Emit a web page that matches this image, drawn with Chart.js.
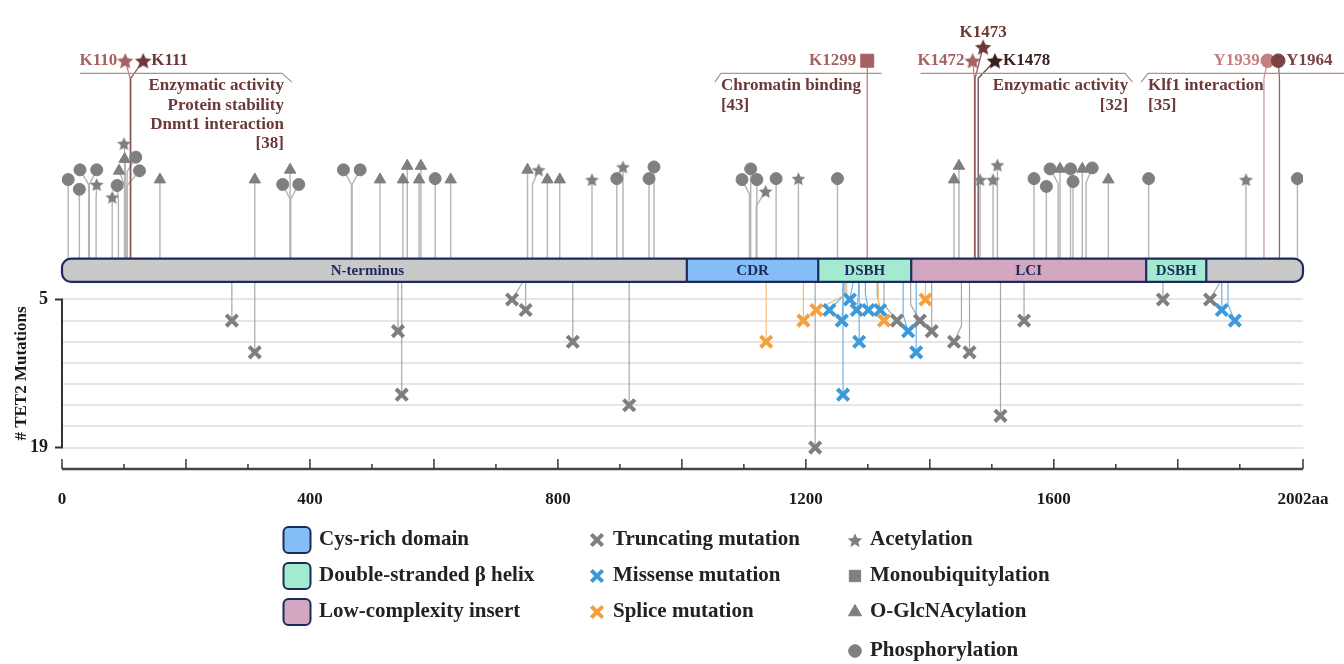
<!DOCTYPE html>
<html>
<head>
<meta charset="utf-8">
<script src="https://cdn.jsdelivr.net/npm/chart.js@4.4.1/dist/chart.umd.min.js"></script>
<style>
  html, body { margin: 0; padding: 0; background: #fff; }
  #wrap { width: 1344px; height: 664px; }
</style>
</head>
<body>
<div id="wrap"><canvas id="chart" width="1344" height="664"></canvas></div>
<script>
// ---- protein axis ----
const proteinLength = 2002;
const xTickLabels = [0, 400, 800, 1200, 1600, 2002];
const mutGridValues = [5, 7, 9, 11, 13, 15, 17, 19];

// ---- domains ----
const domainNames = ['N-terminus', 'CDR', 'DSBH', 'LCI', 'DSBH', ''];
const domainStart = [0, 1008, 1220, 1370, 1749, 1846];
const domainEnd = [1008, 1220, 1370, 1749, 1846, 2002];

// ---- PTM sites (P phospho, A acetyl, G O-GlcNAc) ----
const ptmSites = [10, 28, 43, 44, 55, 81, 91, 101, 101, 102, 105, 105, 158, 311, 368, 368, 369, 467, 468, 513,
  550, 557, 576, 579, 602, 627, 751, 759, 783, 803, 855, 895, 905, 947, 955, 1109, 1111, 1121, 1120, 1152,
  1188, 1251, 1439, 1447, 1481, 1502, 1509, 1568, 1588, 1607, 1610, 1627, 1631, 1646, 1652, 1688, 1753, 1910, 1993];
const ptmTypes = ['P', 'P', 'P', 'P', 'A', 'A', 'P', 'G', 'G', 'A', 'P', 'P', 'G', 'G', 'G', 'P', 'P', 'P', 'P', 'G',
  'G', 'G', 'G', 'G', 'P', 'G', 'G', 'A', 'G', 'G', 'A', 'P', 'A', 'P', 'P', 'P', 'P', 'P', 'A', 'P',
  'A', 'P', 'G', 'G', 'A', 'A', 'A', 'P', 'P', 'P', 'G', 'P', 'P', 'G', 'P', 'G', 'P', 'A', 'P'];
// where each head is drawn (aa) and how high above the bar, heads are spread where they crowd
const ptmHeadPos = [10, 28, 29, 56, 56, 81, 89, 92, 101, 100, 119, 125, 158, 311, 368, 356, 382, 454, 481, 513,
  550, 557, 576, 579, 602, 627, 751, 769, 783, 803, 855, 895, 905, 947, 955, 1097, 1111, 1121, 1135, 1152,
  1188, 1251, 1439, 1447, 1481, 1502, 1509, 1568, 1588, 1594, 1610, 1627, 1631, 1646, 1662, 1688, 1753, 1910, 1993];
const ptmHeadLevel = [8.1, 7.1, 9.1, 9.1, 7.6, 6.3, 7.5, 9.0, 10.2, 11.8, 10.4, 9.0, 8.1, 8.1, 9.1, 7.6, 7.6, 9.1, 9.1, 8.1,
  8.1, 9.5, 8.1, 9.5, 8.2, 8.1, 9.1, 9.1, 8.1, 8.1, 8.1, 8.2, 9.4, 8.2, 9.4, 8.1, 9.2, 8.1, 6.9, 8.2,
  8.2, 8.2, 8.1, 9.5, 8.1, 8.1, 9.6, 8.2, 7.4, 9.2, 9.2, 9.2, 7.9, 9.2, 9.3, 8.1, 8.2, 8.1, 8.2];

// ---- functionally characterised sites ----
const keyLabels = ['K110', 'K111', 'K1299', 'K1472', 'K1473', 'K1478', 'Y1939', 'Y1964'];
const keySites = [110, 111, 1299, 1472, 1473, 1478, 1939, 1964];
const keyTypes = ['A', 'A', 'U', 'A', 'A', 'A', 'P', 'P'];
const keyHeadPos = [102, 131, 1299, 1469, 1486, 1505, 1945, 1962];
const keyHeadLevel = [20.3, 20.3, 20.3, 20.3, 21.7, 20.3, 20.3, 20.3];
const keyLabelSide = ['left', 'right', 'left', 'left', 'top', 'right', 'left', 'right'];
const keyColors = ['#a66262', '#6e3838', '#a66262', '#a66262', '#6e3838', '#3b1f1f', '#c27f7f', '#7a4242'];

// ---- annotation boxes ----
const noteLines = [
  ['Enzymatic activity', 'Protein stability', 'Dnmt1 interaction', '[38]'],
  ['Chromatin binding', '[43]'],
  ['Enzymatic activity', '[32]'],
  ['Klf1 interaction', '[35]']
];
const noteAnchor = [358, 1063, 1720, 1752];
const noteAlign = ['right', 'left', 'right', 'left'];
const bracketPoints = [
  [[29, 19.0], [355, 19.0], [371, 18.1]],
  [[1053, 18.1], [1063, 19.0], [1322, 19.0]],
  [[1385, 19.0], [1715, 19.0], [1727, 18.1]],
  [[1741, 18.1], [1752, 19.0], [2070, 19.0]]
];

// ---- TET2 mutations ----
const truncSite = [274, 311, 542, 548, 742, 748, 824, 915, 1215, 1326, 1369, 1403, 1451, 1464, 1514, 1552, 1776, 1867];
const truncHead = [274, 311, 542, 548, 726, 748, 824, 915, 1215, 1347, 1384, 1403, 1439, 1464, 1514, 1552, 1776, 1852];
const truncCount = [7, 10, 8, 14, 5, 6, 9, 15, 19, 7, 7, 8, 9, 10, 16, 7, 5, 5];
const missSite = [1263, 1276, 1260, 1260, 1285, 1296, 1315, 1286, 1357, 1378, 1871, 1881];
const missHead = [1238, 1271, 1258, 1260, 1282, 1301, 1320, 1286, 1365, 1378, 1871, 1892];
const missCount = [6, 5, 7, 14, 6, 6, 6, 9, 8, 10, 6, 7];
const spliceSite = [1136, 1196, 1266, 1317, 1393];
const spliceHead = [1136, 1196, 1217, 1326, 1393];
const spliceCount = [9, 7, 6, 7, 5];

// ---- legend ----
const legendDomains = ['Cys-rich domain', 'Double-stranded \u03b2 helix', 'Low-complexity insert'];
const legendMutations = ['Truncating mutation', 'Missense mutation', 'Splice mutation'];
const legendPtms = ['Acetylation', 'Monoubiquitylation', 'O-GlcNAcylation', 'Phosphorylation'];

// ---- look ----
const FONT = '"Liberation Serif", "Times New Roman", serif';
const NAVY = '#1d2a5c';
const PTM_GRAY = '#7f7f7f';
const STEM_GRAY = '#b4b4b4';
const NOTE_COLOR = '#6b3939';
const domainColors = ['#c9c9c9', '#85bdf7', '#a3ead0', '#d4a7c1', '#a3ead0', '#c9c9c9'];
const mutColors = ['#7f7f7f', '#3d9ad8', '#f5a03c'];
const mutStemColors = ['#a8a8a8', '#6db4e8', '#f7bb78'];

const AREA_BOTTOM = 469;           // x axis line
const MUT_TOP = 295, MUT_BOTTOM = 447;
const mutPx = (MUT_BOTTOM - MUT_TOP) / (19 - 5);
const BAR_TOP = 253;
const PTM_PX = 10;                 // px per level unit above the bar
const BAR_H = 2.4;

function makeStar(color, r) {
  const c = document.createElement('canvas');
  const s = Math.ceil(r * 2 + 2);
  c.width = s; c.height = s;
  const g = c.getContext('2d');
  g.fillStyle = color;
  g.beginPath();
  for (let i = 0; i < 10; i++) {
    const rad = i % 2 ? r * 0.47 : r;
    const a = -Math.PI / 2 + i * Math.PI / 5;
    g.lineTo(s / 2 + rad * Math.cos(a), s / 2 + 0.8 + rad * Math.sin(a));
  }
  g.closePath();
  g.fill();
  return c;
}

const starGray = makeStar(PTM_GRAY, 7.2);
const starLegend = makeStar(PTM_GRAY, 7.6);
const ptmStyle = { P: 'circle', A: starGray, G: 'triangle', U: 'rect' };
const ptmRadius = { P: 6, A: 6, G: 6.6, U: 5.5 };
const keyStyles = keyTypes.map((t, i) => t === 'A' ? makeStar(keyColors[i], 8.6) : (t === 'U' ? 'rect' : 'circle'));
const keyRadius = keyTypes.map(t => t === 'U' ? 9.2 : 6.8);

function toPoints(xs, ys) {
  return xs.map((x, i) => ({ x, y: ys[i] }));
}

function setFont(ctx, size, color, align) {
  ctx.font = `bold ${size}px ${FONT}`;
  ctx.fillStyle = color;
  ctx.textAlign = align || 'left';
  ctx.textBaseline = 'middle';
}

function drawStem(ctx, x0, y0, x1, y1, kneeY) {
  ctx.beginPath();
  ctx.moveTo(x0, y0);
  if (Math.abs(x1 - x0) > 0.5) ctx.lineTo(x0, kneeY);
  ctx.lineTo(x1, y1);
  ctx.stroke();
}

function mark(ctx, style, radius, color, x, y, borderWidth) {
  ctx.save();
  ctx.fillStyle = color;
  ctx.strokeStyle = color;
  ctx.lineWidth = borderWidth;
  Chart.helpers.drawPoint(ctx, { pointStyle: style, radius, rotation: 0, borderWidth }, x, y);
  ctx.restore();
}

const tet2Plugin = {
  id: 'tet2',
  beforeDatasetsDraw(chart) {
    const { ctx, chartArea } = chart;
    const { x, yMut, yPtm } = chart.scales;
    const barTop = yPtm.getPixelForValue(0);
    const barBottom = yPtm.getPixelForValue(-BAR_H);
    ctx.save();
    ctx.lineCap = 'butt';

    // y axis of the mutation panel
    ctx.strokeStyle = '#333';
    ctx.lineWidth = 2;
    ctx.beginPath();
    ctx.moveTo(x.left, yMut.getPixelForValue(5));
    ctx.lineTo(x.left, yMut.getPixelForValue(19));
    [5, 19].forEach(v => {
      ctx.moveTo(x.left - 7, yMut.getPixelForValue(v));
      ctx.lineTo(x.left + 1, yMut.getPixelForValue(v));
    });
    ctx.stroke();

    // protein axis
    ctx.strokeStyle = '#444';
    ctx.lineWidth = 2.5;
    ctx.beginPath();
    ctx.moveTo(x.left, chartArea.bottom);
    ctx.lineTo(x.right, chartArea.bottom);
    ctx.stroke();
    ctx.lineWidth = 1.6;
    ctx.beginPath();
    for (let v = 0; v <= proteinLength; v += 100) {
      const val = v === 2000 ? proteinLength : v;
      const len = (v % 200 === 0) ? 10 : 5;
      const px = x.getPixelForValue(val);
      ctx.moveTo(px, chartArea.bottom);
      ctx.lineTo(px, chartArea.bottom - len);
    }
    ctx.stroke();

    // PTM stems
    ctx.strokeStyle = STEM_GRAY;
    ctx.lineWidth = 1.4;
    ptmSites.forEach((s, i) => {
      const hy = yPtm.getPixelForValue(ptmHeadLevel[i]);
      drawStem(ctx, x.getPixelForValue(s), barTop, x.getPixelForValue(ptmHeadPos[i]), hy,
        yPtm.getPixelForValue(ptmHeadLevel[i] - 1.5));
    });

    // key site stems
    ctx.lineWidth = 1.3;
    keySites.forEach((s, i) => {
      ctx.strokeStyle = keyColors[i];
      ctx.globalAlpha = 0.8;
      drawStem(ctx, x.getPixelForValue(s), barTop, x.getPixelForValue(keyHeadPos[i]),
        yPtm.getPixelForValue(keyHeadLevel[i]), yPtm.getPixelForValue(18.5));
    });
    ctx.globalAlpha = 1;

    // mutation stems
    const sets = [[truncSite, truncHead, truncCount], [missSite, missHead, missCount], [spliceSite, spliceHead, spliceCount]];
    ctx.lineWidth = 1.2;
    sets.forEach((set, k) => {
      ctx.strokeStyle = mutStemColors[k];
      set[0].forEach((s, i) => {
        const hy = yMut.getPixelForValue(set[2][i]);
        drawStem(ctx, x.getPixelForValue(s), barBottom, x.getPixelForValue(set[1][i]), hy,
          Math.max(barBottom, hy - 16));
      });
    });

    // protein bar with domains
    const bx0 = x.getPixelForValue(0), bx1 = x.getPixelForValue(proteinLength);
    ctx.save();
    ctx.beginPath();
    ctx.roundRect(bx0, barTop, bx1 - bx0, barBottom - barTop, 9);
    ctx.clip();
    domainStart.forEach((s, i) => {
      const a = x.getPixelForValue(s), b = x.getPixelForValue(domainEnd[i]);
      ctx.fillStyle = domainColors[i];
      ctx.fillRect(a, barTop, b - a, barBottom - barTop);
    });
    ctx.strokeStyle = NAVY;
    ctx.lineWidth = 2.2;
    ctx.beginPath();
    domainStart.slice(1).forEach(s => {
      const a = x.getPixelForValue(s);
      ctx.moveTo(a, barTop);
      ctx.lineTo(a, barBottom);
    });
    ctx.stroke();
    ctx.restore();
    ctx.strokeStyle = NAVY;
    ctx.lineWidth = 2.2;
    ctx.beginPath();
    ctx.roundRect(bx0, barTop, bx1 - bx0, barBottom - barTop, 9);
    ctx.stroke();
    setFont(ctx, 15, NAVY, 'center');
    domainNames.forEach((n, i) => {
      if (!n) return;
      let c = (x.getPixelForValue(domainStart[i]) + x.getPixelForValue(domainEnd[i])) / 2;
      if (i === 0) c -= 7;
      ctx.fillText(n, c, (barTop + barBottom) / 2 + 1);
    });

    // annotation brackets
    ctx.strokeStyle = '#b48a8a';
    ctx.lineWidth = 1.2;
    bracketPoints.forEach(pts => {
      ctx.beginPath();
      pts.forEach(([a, v], j) => {
        const px = x.getPixelForValue(a), py = yPtm.getPixelForValue(v);
        if (j === 0) ctx.moveTo(px, py); else ctx.lineTo(px, py);
      });
      ctx.stroke();
    });
    ctx.restore();
  },
  afterDatasetsDraw(chart) {
    const { ctx } = chart;
    const { x, yPtm } = chart.scales;
    ctx.save();
    // key site labels
    keyLabels.forEach((lab, i) => {
      const hx = x.getPixelForValue(keyHeadPos[i]);
      const hy = yPtm.getPixelForValue(keyHeadLevel[i]);
      const off = keyTypes[i] === 'U' ? 11 : 8;
      const side = keyLabelSide[i];
      setFont(ctx, 17, keyColors[i], side === 'left' ? 'right' : side === 'right' ? 'left' : 'center');
      if (side === 'left') ctx.fillText(lab, hx - off, hy);
      else if (side === 'right') ctx.fillText(lab, hx + off, hy);
      else ctx.fillText(lab, hx, hy - 14);
    });
    // annotation texts
    noteLines.forEach((lines, i) => {
      setFont(ctx, 17, NOTE_COLOR, noteAlign[i]);
      const px = x.getPixelForValue(noteAnchor[i]);
      lines.forEach((t, j) => ctx.fillText(t, px, yPtm.getPixelForValue(17.7 - 1.98 * j)));
    });
    ctx.restore();
  },
  afterDraw(chart) {
    const { ctx } = chart;
    const { yMut } = chart.scales;
    ctx.save();
    // y axis title
    ctx.translate(22, (yMut.getPixelForValue(5) + yMut.getPixelForValue(19)) / 2);
    ctx.rotate(-Math.PI / 2);
    setFont(ctx, 17, '#1a1a1a', 'center');
    ctx.fillText('# TET2 Mutations', 0, 0);
    ctx.restore();

    // legend
    const rows = [540, 576, 612, 651];
    ctx.save();
    legendDomains.forEach((t, i) => {
      ctx.beginPath();
      ctx.roundRect(283.5, rows[i] - 13, 27, 26, 5);
      ctx.fillStyle = domainColors[i + 1];
      ctx.fill();
      ctx.strokeStyle = NAVY;
      ctx.lineWidth = 2;
      ctx.stroke();
      setFont(ctx, 21, '#222', 'left');
      ctx.fillText(t, 319, rows[i]);
    });
    legendMutations.forEach((t, i) => {
      mark(ctx, 'crossRot', 8, mutColors[i], 597, rows[i], 4);
      setFont(ctx, 21, '#222', 'left');
      ctx.fillText(t, 613, rows[i]);
    });
    const legStyles = [starLegend, 'rect', 'triangle', 'circle'];
    const legRadius = [7, 8, 7.5, 6.3];
    legendPtms.forEach((t, i) => {
      mark(ctx, legStyles[i], legRadius[i], PTM_GRAY, 855, rows[i], 1);
      setFont(ctx, 21, '#222', 'left');
      ctx.fillText(t, 870, rows[i]);
    });
    ctx.restore();
  }
};

const tickFont = { family: FONT, size: 17, weight: 'bold' };

new Chart(document.getElementById('chart'), {
  type: 'scatter',
  data: {
    datasets: [
      {
        label: 'PTM sites',
        yAxisID: 'yPtm',
        data: toPoints(ptmHeadPos, ptmHeadLevel),
        pointStyle: ptmTypes.map(t => ptmStyle[t]),
        pointRadius: ptmTypes.map(t => ptmRadius[t]),
        pointBackgroundColor: PTM_GRAY,
        pointBorderColor: PTM_GRAY,
        pointBorderWidth: 1
      },
      {
        label: 'Key sites',
        yAxisID: 'yPtm',
        data: toPoints(keyHeadPos, keyHeadLevel),
        pointStyle: keyStyles,
        pointRadius: keyRadius,
        pointBackgroundColor: keyColors,
        pointBorderColor: keyColors,
        pointBorderWidth: 1
      },
      {
        label: 'Truncating mutation',
        yAxisID: 'yMut',
        data: toPoints(truncHead, truncCount),
        pointStyle: 'crossRot',
        pointRadius: 8,
        pointBorderWidth: 4,
        pointBorderColor: mutColors[0]
      },
      {
        label: 'Missense mutation',
        yAxisID: 'yMut',
        data: toPoints(missHead, missCount),
        pointStyle: 'crossRot',
        pointRadius: 8,
        pointBorderWidth: 4,
        pointBorderColor: mutColors[1]
      },
      {
        label: 'Splice mutation',
        yAxisID: 'yMut',
        data: toPoints(spliceHead, spliceCount),
        pointStyle: 'crossRot',
        pointRadius: 8,
        pointBorderWidth: 4,
        pointBorderColor: mutColors[2]
      }
    ]
  },
  options: {
    responsive: false,
    animation: false,
    events: [],
    layout: { padding: { top: 0, left: 0, right: 41, bottom: 664 - AREA_BOTTOM - 40 } },
    plugins: { legend: { display: false }, tooltip: { enabled: false } },
    scales: {
      x: {
        type: 'linear',
        min: 0,
        max: proteinLength,
        grid: { display: false },
        border: { display: false },
        afterBuildTicks: s => { s.ticks = xTickLabels.map(v => ({ value: v })); },
        afterFit: s => { s.height = 40; s.paddingLeft = 0; s.paddingRight = 0; },
        ticks: {
          autoSkip: false,
          maxRotation: 0,
          padding: 12,
          color: '#1a1a1a',
          font: tickFont,
          callback: v => (v === proteinLength ? v + 'aa' : v)
        }
      },
      yMut: {
        type: 'linear',
        position: 'left',
        reverse: true,
        min: 5 - MUT_TOP / mutPx,
        max: 19 + (AREA_BOTTOM - MUT_BOTTOM) / mutPx,
        afterBuildTicks: s => { s.ticks = mutGridValues.map(v => ({ value: v })); },
        afterFit: s => { s.width = 62; s.paddingTop = 0; s.paddingBottom = 0; },
        grid: { color: '#e6e6e6', lineWidth: 2, drawTicks: false },
        border: { display: false },
        ticks: {
          padding: 14,
          color: '#1a1a1a',
          font: { family: FONT, size: 18, weight: 'bold' },
          callback: v => (v === 5 || v === 19 ? v : '')
        }
      },
      yPtm: {
        type: 'linear',
        display: false,
        min: -(AREA_BOTTOM - BAR_TOP) / PTM_PX,
        max: BAR_TOP / PTM_PX
      }
    }
  },
  plugins: [tet2Plugin]
});
</script>
</body>
</html>
